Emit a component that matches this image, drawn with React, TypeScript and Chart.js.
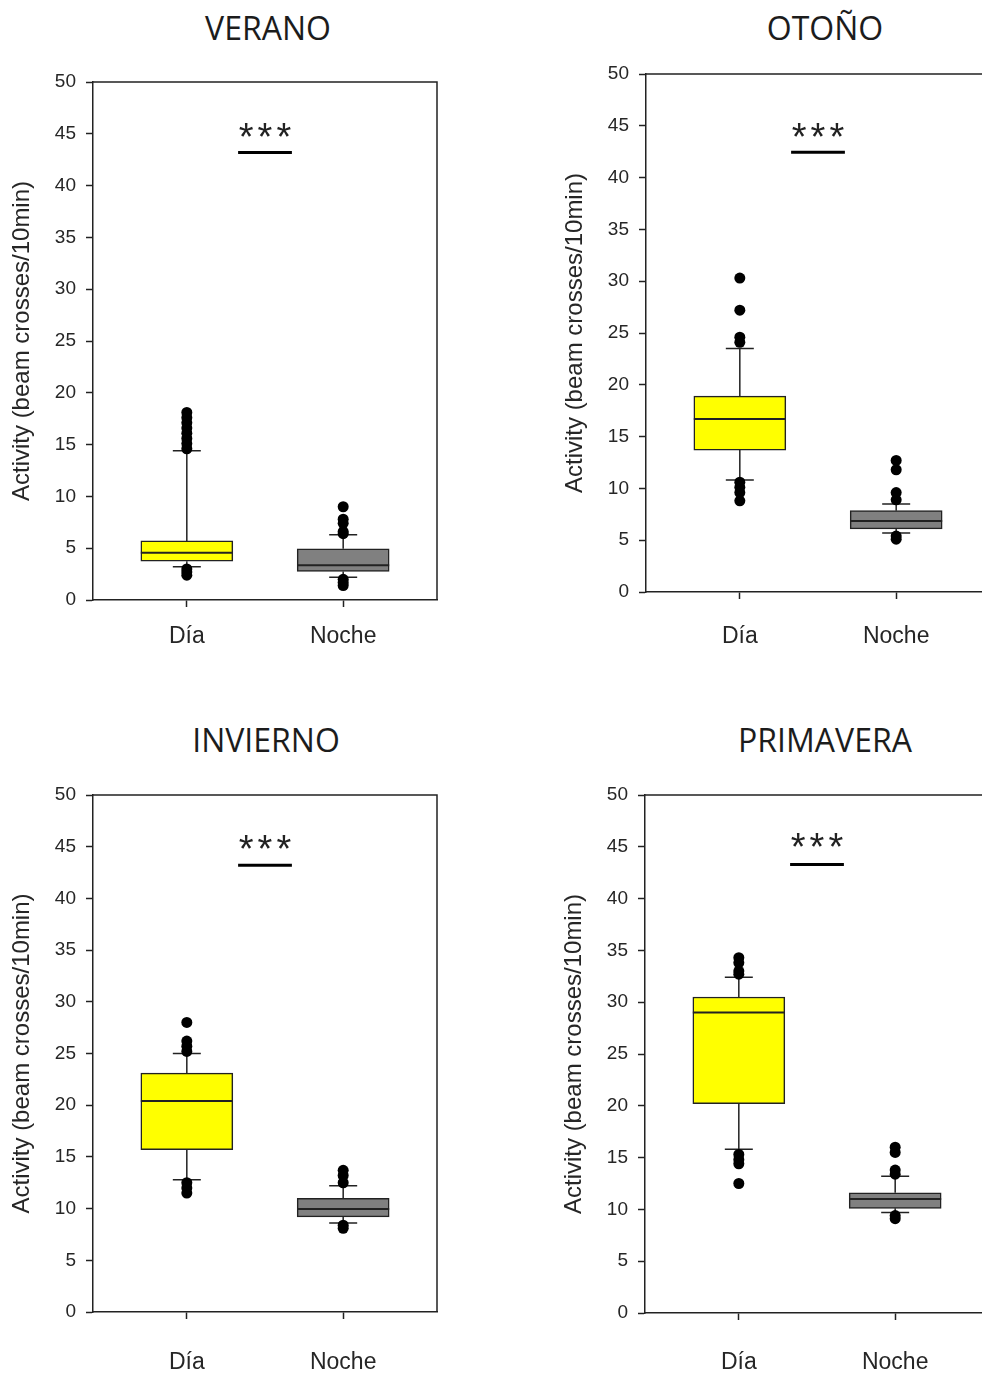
import React, { useEffect, useRef } from 'react';
import { Chart, registerables } from 'chart.js';

Chart.register(...registerables);

// ---------- DATA ----------
const categories = ['Día', 'Noche'];
const seasons = ['VERANO', 'OTOÑO', 'INVIERNO', 'PRIMAVERA'];
const yAxisTitle = 'Activity (beam crosses/10min)';
const yMin = 0;
const yMax = 50;
const yStep = 5;
const significanceLabel = '***';

// [lower whisker, Q1, median, Q3, upper whisker]
const veranoDia = [3.2, 3.75, 4.55, 5.7, 14.4];
const veranoNoche = [2.2, 2.75, 3.35, 4.95, 6.3];
const otonoDia = [10.8, 13.7, 16.7, 18.9, 23.5];
const otonoNoche = [5.7, 6.1, 6.85, 7.85, 8.5];
const inviernoDia = [12.8, 15.7, 20.4, 23.1, 25.0];
const inviernoNoche = [8.6, 9.2, 9.95, 11.0, 12.2];
const primaveraDia = [15.8, 20.2, 29.0, 30.5, 32.4];
const primaveraNoche = [9.7, 10.1, 11.0, 11.6, 13.2];

// outliers
const veranoDiaOutliers = [18.1, 17.6, 17.1, 16.6, 16.1, 15.6, 15.1, 14.6, 3.0, 2.7, 2.4];
const veranoNocheOutliers = [9.0, 7.8, 7.4, 6.6, 6.4, 2.0, 1.7, 1.4];
const otonoDiaOutliers = [30.3, 27.2, 24.6, 24.1, 10.6, 10.1, 9.6, 8.8];
const otonoNocheOutliers = [12.7, 11.8, 9.6, 8.9, 5.4, 5.1];
const inviernoDiaOutliers = [28.0, 26.2, 25.7, 25.2, 12.5, 12.0, 11.5];
const inviernoNocheOutliers = [13.7, 13.2, 12.5, 8.4, 8.1];
const primaveraDiaOutliers = [34.3, 33.8, 33.0, 32.7, 15.3, 14.8, 14.4, 12.5];
const primaveraNocheOutliers = [16.0, 15.5, 13.8, 13.4, 9.4, 9.1];

// significance bar level and star level (in y units)
const significanceLine = [43.2, 42.45, 43.2, 43.3];
const significanceStars = [45.4, 44.6, 45.5, 45.7];

const boxesBySeason = [
  [veranoDia, veranoNoche],
  [otonoDia, otonoNoche],
  [inviernoDia, inviernoNoche],
  [primaveraDia, primaveraNoche],
];
const outliersBySeason = [
  [veranoDiaOutliers, veranoNocheOutliers],
  [otonoDiaOutliers, otonoNocheOutliers],
  [inviernoDiaOutliers, inviernoNocheOutliers],
  [primaveraDiaOutliers, primaveraNocheOutliers],
];

// ---------- LAYOUT / STYLE ----------
const panelLayouts = [
  { left: 0, top: 0, w: 491, h: 700, chartTop: 82, chartBottom: 600, labelPad: 16, titleX: 268, titleY: 28 },
  { left: 553, top: 0, w: 491, h: 700, chartTop: 74, chartBottom: 592, labelPad: 24, titleX: 825, titleY: 28 },
  { left: 0, top: 700, w: 491, h: 676, chartTop: 95, chartBottom: 612, labelPad: 30, titleX: 266, titleY: 740 },
  { left: 552, top: 700, w: 491, h: 676, chartTop: 95, chartBottom: 613, labelPad: 29, titleX: 825, titleY: 740 },
];
const AXIS_LEFT = 93;
const AXIS_RIGHT = 437;
const boxColors = ['#ffff00', '#808080'];
const ink = '#222222';
const textColor = '#262626';
const sansFont = '"Liberation Sans", Arial, sans-serif';

const boxExtras = {
  id: 'boxExtras',
  beforeDatasetsDraw(chart: any, _args: any, opts: any) {
    const { ctx } = chart;
    const x = chart.scales.x;
    const y = chart.scales.y;
    ctx.save();
    ctx.strokeStyle = ink;
    ctx.lineWidth = 1.5;
    const capHalf = 14;
    (opts.boxes as number[][]).forEach((b, i) => {
      const px = x.getPixelForValue(i);
      const yLo = y.getPixelForValue(b[0]);
      const yQ1 = y.getPixelForValue(b[1]);
      const yQ3 = y.getPixelForValue(b[3]);
      const yHi = y.getPixelForValue(b[4]);
      ctx.beginPath();
      ctx.moveTo(px, yQ1); ctx.lineTo(px, yLo);
      ctx.moveTo(px - capHalf, yLo); ctx.lineTo(px + capHalf, yLo);
      ctx.moveTo(px, yQ3); ctx.lineTo(px, yHi);
      ctx.moveTo(px - capHalf, yHi); ctx.lineTo(px + capHalf, yHi);
      ctx.stroke();
    });
    ctx.restore();
  },
  afterDatasetsDraw(chart: any, _args: any, opts: any) {
    const { ctx, chartArea } = chart;
    const x = chart.scales.x;
    const y = chart.scales.y;
    const meta = chart.getDatasetMeta(1);
    ctx.save();
    // medians
    ctx.strokeStyle = ink;
    ctx.lineWidth = 2;
    (opts.boxes as number[][]).forEach((b, i) => {
      const el = meta.data[i];
      const { x: cx, width } = el.getProps(['x', 'width'], true);
      const ym = y.getPixelForValue(b[2]);
      ctx.beginPath();
      ctx.moveTo(cx - width / 2, ym);
      ctx.lineTo(cx + width / 2, ym);
      ctx.stroke();
    });
    // frame top & right
    ctx.lineWidth = 1.5;
    ctx.beginPath();
    ctx.moveTo(chartArea.left, chartArea.top);
    ctx.lineTo(chartArea.right, chartArea.top);
    ctx.lineTo(chartArea.right, chartArea.bottom);
    ctx.stroke();
    // significance
    const ly = y.getPixelForValue(opts.sigLine);
    ctx.strokeStyle = '#000';
    ctx.lineWidth = 3;
    ctx.beginPath();
    ctx.moveTo(x.getPixelForValue(0.5 - 0.172), ly);
    ctx.lineTo(x.getPixelForValue(0.5 + 0.172), ly);
    ctx.stroke();
    const sy = y.getPixelForValue(opts.sigStars);
    const sx = x.getPixelForValue(0.5);
    ctx.fillStyle = ink;
    ctx.font = '38px ' + sansFont;
    ctx.textAlign = 'center';
    ctx.textBaseline = 'alphabetic';
    const spacing = 4;
    (ctx as any).letterSpacing = spacing + 'px';
    const m = ctx.measureText(opts.label);
    const cyOff = (m.actualBoundingBoxAscent - m.actualBoundingBoxDescent) / 2;
    ctx.fillText(opts.label, sx + spacing / 2, sy + cyOff);
    ctx.restore();
  },
};

function Panel({ index }: { index: number }) {
  const ref = useRef<HTMLCanvasElement | null>(null);
  const L = panelLayouts[index];
  useEffect(() => {
    if (!ref.current) return;
    const boxes = boxesBySeason[index];
    const outliers = outliersBySeason[index];
    const chart = new Chart(ref.current, {
      type: 'bar',
      data: {
        datasets: [
          {
            type: 'scatter',
            data: outliers.flatMap((arr, i) => arr.map((v) => ({ x: i, y: v }))),
            backgroundColor: '#000',
            borderColor: '#000',
            borderWidth: 0,
            pointRadius: 5.5,
            pointHoverRadius: 5.5,
          } as any,
          {
            type: 'bar',
            data: boxes.map((b, i) => ({ x: i, y: [b[1], b[3]] })),
            backgroundColor: boxColors,
            borderColor: ink,
            borderWidth: 1.5,
            borderSkipped: false,
            barThickness: 92,
          } as any,
        ],
      },
      options: {
        responsive: false,
        animation: false,
        devicePixelRatio: 1,
        events: [],
        layout: { padding: { left: 0, top: L.chartTop, right: L.w - AXIS_RIGHT, bottom: 0 } },
        plugins: {
          legend: { display: false },
          tooltip: { enabled: false },
          title: { display: false },
          boxExtras: {
            boxes,
            sigLine: significanceLine[index],
            sigStars: significanceStars[index],
            label: significanceLabel,
          },
        } as any,
        scales: {
          x: {
            type: 'linear',
            min: -0.6,
            max: 1.6,
            offset: false,
            afterBuildTicks: (axis: any) => {
              axis.ticks = categories.map((_, i) => ({ value: i }));
            },
            afterFit: (axis: any) => {
              axis.height = L.h - L.chartBottom;
            },
            ticks: {
              autoSkip: false,
              maxRotation: 0,
              padding: L.labelPad,
              color: textColor,
              font: { family: sansFont, size: 23 },
              callback: (v: any) => categories[Math.round(Number(v))] ?? '',
            },
            grid: {
              offset: false,
              drawOnChartArea: false,
              drawTicks: true,
              tickLength: 7,
              tickColor: ink,
              tickWidth: 1.5,
              color: ink,
            },
            border: { display: true, color: ink, width: 1.5 },
          },
          y: {
            type: 'linear',
            min: yMin,
            max: yMax,
            afterFit: (axis: any) => {
              axis.width = AXIS_LEFT;
            },
            ticks: {
              stepSize: yStep,
              padding: 10,
              color: textColor,
              font: { family: sansFont, size: 19 },
            },
            grid: {
              drawOnChartArea: false,
              drawTicks: true,
              tickLength: 7,
              tickColor: ink,
              tickWidth: 1.5,
              color: ink,
            },
            border: { display: true, color: ink, width: 1.5 },
            title: {
              display: true,
              text: yAxisTitle,
              color: textColor,
              font: { family: sansFont, size: 24 },
              padding: { top: 8, bottom: 0 },
            },
          },
        },
      } as any,
      plugins: [boxExtras],
    });
    return () => chart.destroy();
  }, [index]);

  return (
    <>
      <div
        style={{
          position: 'absolute',
          left: L.titleX - 200,
          top: L.titleY - 20,
          width: 400,
          height: 40,
          lineHeight: '40px',
          textAlign: 'center',
          fontFamily: '"Open Sans", sans-serif',
          fontSize: 32,
          color: '#1c1c1c',
        }}
      >
        {seasons[index]}
      </div>
      <canvas
        ref={ref}
        width={L.w}
        height={L.h}
        style={{ position: 'absolute', left: L.left, top: L.top, width: L.w, height: L.h }}
      />
    </>
  );
}

export default function App() {
  return (
    <div
      style={{
        position: 'absolute',
        left: 0,
        top: 0,
        width: 982,
        height: 1376,
        overflow: 'hidden',
        background: '#ffffff',
      }}
    >
      {seasons.map((_, i) => (
        <Panel key={i} index={i} />
      ))}
    </div>
  );
}
